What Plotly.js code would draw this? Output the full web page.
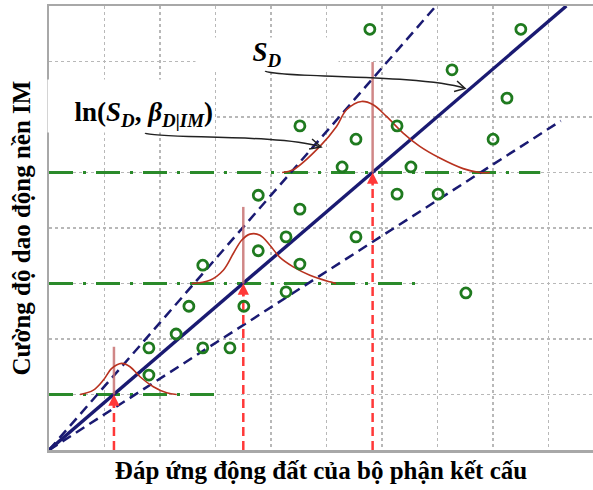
<!DOCTYPE html>
<html><head><meta charset="utf-8">
<script src="https://cdn.plot.ly/plotly-3.0.1.min.js"></script>
<style>html,body{margin:0;padding:0;background:#fff}</style>
</head><body><div id="chart" style="width:593px;height:490px"></div>
<script>
// ---- data (axis units = grid cells) ----
const pointsX = [5.78, 8.50, 7.26, 8.25, 4.52, 6.27, 5.53, 8.00, 5.28, 6.52, 3.77, 6.27, 7.01, 4.52, 4.27, 5.53, 3.77, 2.77, 4.52, 4.27, 7.51, 2.52, 3.51, 2.29, 1.80, 2.77, 3.26, 1.80];
const pointsY = [7.58, 7.58, 6.85, 6.34, 5.84, 5.84, 5.60, 5.60, 5.10, 5.10, 4.59, 4.61, 4.61, 4.34, 3.84, 3.84, 3.59, 3.33, 3.35, 2.85, 2.83, 2.59, 2.59, 2.09, 1.84, 1.84, 1.84, 1.35];
const medianLineX = [0, 9.32], medianLineY = [0, 8];
const upperLineX = [0, 6.97], upperLineY = [0, 8];
const lowerLineX = [0, 9.22], lowerLineY = [0, 5.93];
const imLevels = [1, 3, 5];
const imLevelEndX = [3.12, 6.61, 8.85];
const demandAtLevel = [1.17, 3.50, 5.83];
const medianMarkTop = [1.86, 4.38, 6.99];
const pdf1X = [0.56, 0.80, 0.98, 1.13, 1.31, 1.46, 1.64, 1.88, 2.12, 2.30];
const pdf1Y = [1.00, 1.08, 1.26, 1.47, 1.56, 1.50, 1.32, 1.14, 1.03, 1.00];
const pdf2X = [2.57, 2.90, 3.14, 3.32, 3.47, 3.62, 3.80, 3.98, 4.16, 4.40, 4.70, 5.06, 5.17];
const pdf2Y = [3.00, 3.06, 3.24, 3.54, 3.78, 3.89, 3.87, 3.69, 3.47, 3.30, 3.15, 3.03, 3.00];
const pdf3X = [4.20, 4.40, 4.88, 5.18, 5.36, 5.63, 5.84, 6.08, 6.38, 6.68, 7.04, 7.46, 7.76, 7.94];
const pdf3Y = [5.00, 5.05, 5.47, 5.83, 6.13, 6.28, 6.22, 6.01, 5.71, 5.47, 5.26, 5.07, 5.00, 5.00];
const xTitle = 'Đáp ứng động đất của bộ phận kết cấu';
const yTitle = 'Cường độ dao động nền IM';

// ---- helpers (layout only) ----
const X = px => (px - 49) / 55.5;
const Y = py => (450 - py) / 55.5;
const P = (px, py) => X(px).toFixed(3) + ',' + Y(py).toFixed(3);

const GREEN = '#2a8a2a', NAVY = '#1a1a72', RED = '#ff3838', BROWN = '#c87272', CURVE = '#b8321f';
const traces = [];
imLevels.forEach((lv, i) => traces.push({x: [0, imLevelEndX[i]], y: [lv, lv], mode: 'lines',
  line: {color: GREEN, width: 3, dash: '24px,10px,3px,10px'}, hoverinfo: 'skip'}));
traces.push({x: upperLineX, y: upperLineY, mode: 'lines', line: {color: NAVY, width: 2.5, dash: '10px,6px'}});
traces.push({x: lowerLineX, y: lowerLineY, mode: 'lines', line: {color: NAVY, width: 2.5, dash: '10px,6px'}});
traces.push({x: medianLineX, y: medianLineY, mode: 'lines', line: {color: NAVY, width: 3.4}});
demandAtLevel.forEach((d, i) => traces.push({x: [d, d], y: [imLevels[i], medianMarkTop[i]], mode: 'lines',
  line: {color: BROWN, width: 2.5}, opacity: 0.85}));
[[pdf1X, pdf1Y], [pdf2X, pdf2Y], [pdf3X, pdf3Y]].forEach(c => traces.push({x: c[0], y: c[1], mode: 'lines',
  line: {color: CURVE, width: 1.6, shape: 'spline', smoothing: 1}}));
demandAtLevel.forEach((d, i) => traces.push({x: [d, d], y: [0, imLevels[i] - 0.2], mode: 'lines',
  line: {color: RED, width: 2.5, dash: '9px,5px'}}));
traces.push({x: pointsX, y: pointsY, mode: 'markers',
  marker: {symbol: 'circle-open', size: 10, color: '#1f7a1f', line: {width: 2.8, color: '#1f7a1f'}}});

const annotations = [];
demandAtLevel.forEach((d, i) => annotations.push({x: d, y: imLevels[i], ax: d, ay: imLevels[i] - 0.26,
  xref: 'x', yref: 'y', axref: 'x', ayref: 'y', text: '', showarrow: true, arrowhead: 2, arrowsize: 0.9,
  arrowwidth: 2.5, arrowcolor: RED, standoff: 0}));
annotations.push({x: X(267), y: Y(54), xref: 'x', yref: 'y', showarrow: false, bgcolor: '#fff',
  width: 140, height: 30, text: '<b><i>S</i></b><sub><b><i>D</i></b></sub>',
  font: {family: 'Liberation Serif', size: 27, color: '#000'}});
annotations.push({x: X(131), y: Y(106), xref: 'x', yref: 'y', showarrow: false, bgcolor: '#fff',
  width: 164, height: 50, align: 'right', valign: 'bottom',
  text: '<b>ln(<i>S</i><sub><i>D</i></sub>, <i>β</i><sub><i>D|IM</i></sub>)</b>',
  font: {family: 'Liberation Serif', size: 27, color: '#000'}});

const shapes = [
  {type: 'path', xref: 'x', yref: 'y', path: 'M' + P(265, 71) + ' C' + P(275, 78) + ' ' + P(420, 74) + ' ' + P(464, 88),
   line: {color: '#222', width: 1.5}},
  {type: 'path', xref: 'x', yref: 'y', path: 'M' + P(457, 81) + ' L' + P(465, 88.5) + ' L' + P(454, 91.5),
   line: {color: '#222', width: 1.5}},
  {type: 'path', xref: 'x', yref: 'y', path: 'M' + P(145, 133) + ' C' + P(152, 139) + ' ' + P(280, 134) + ' ' + P(319, 146.5),
   line: {color: '#222', width: 1.5}},
  {type: 'path', xref: 'x', yref: 'y', path: 'M' + P(312, 139) + ' L' + P(321, 147) + ' L' + P(309, 149),
   line: {color: '#222', width: 1.5}}
];

const layout = {
  width: 593, height: 490, paper_bgcolor: '#fff', plot_bgcolor: '#fff', showlegend: false,
  margin: {l: 49, r: 0, t: 6, b: 40},
  xaxis: {range: [0, 9.8], dtick: 1, tick0: 0, showticklabels: false, ticks: '', zeroline: false,
    showgrid: true, gridcolor: '#b8b8b8', griddash: 'dot', gridwidth: 1.2,
    showline: true, mirror: true, linecolor: '#a8a8a8', linewidth: 2.5,
    title: {text: xTitle, standoff: 10, font: {family: 'Liberation Serif', size: 25, color: '#000', weight: 700}},
    automargin: false, fixedrange: true},
  yaxis: {range: [0, 8], dtick: 1, tick0: 0, showticklabels: false, ticks: '', zeroline: false,
    showgrid: true, gridcolor: '#b8b8b8', griddash: 'dot', gridwidth: 1.2,
    showline: true, mirror: false, linecolor: '#a8a8a8', linewidth: 2.5,
    title: {text: yTitle, standoff: 9, font: {family: 'Liberation Serif', size: 25, color: '#000', weight: 700}},
    automargin: false, fixedrange: true},
  annotations: annotations, shapes: shapes
};
Plotly.newPlot('chart', traces, layout, {displayModeBar: false, staticPlot: true});
</script></body></html>
